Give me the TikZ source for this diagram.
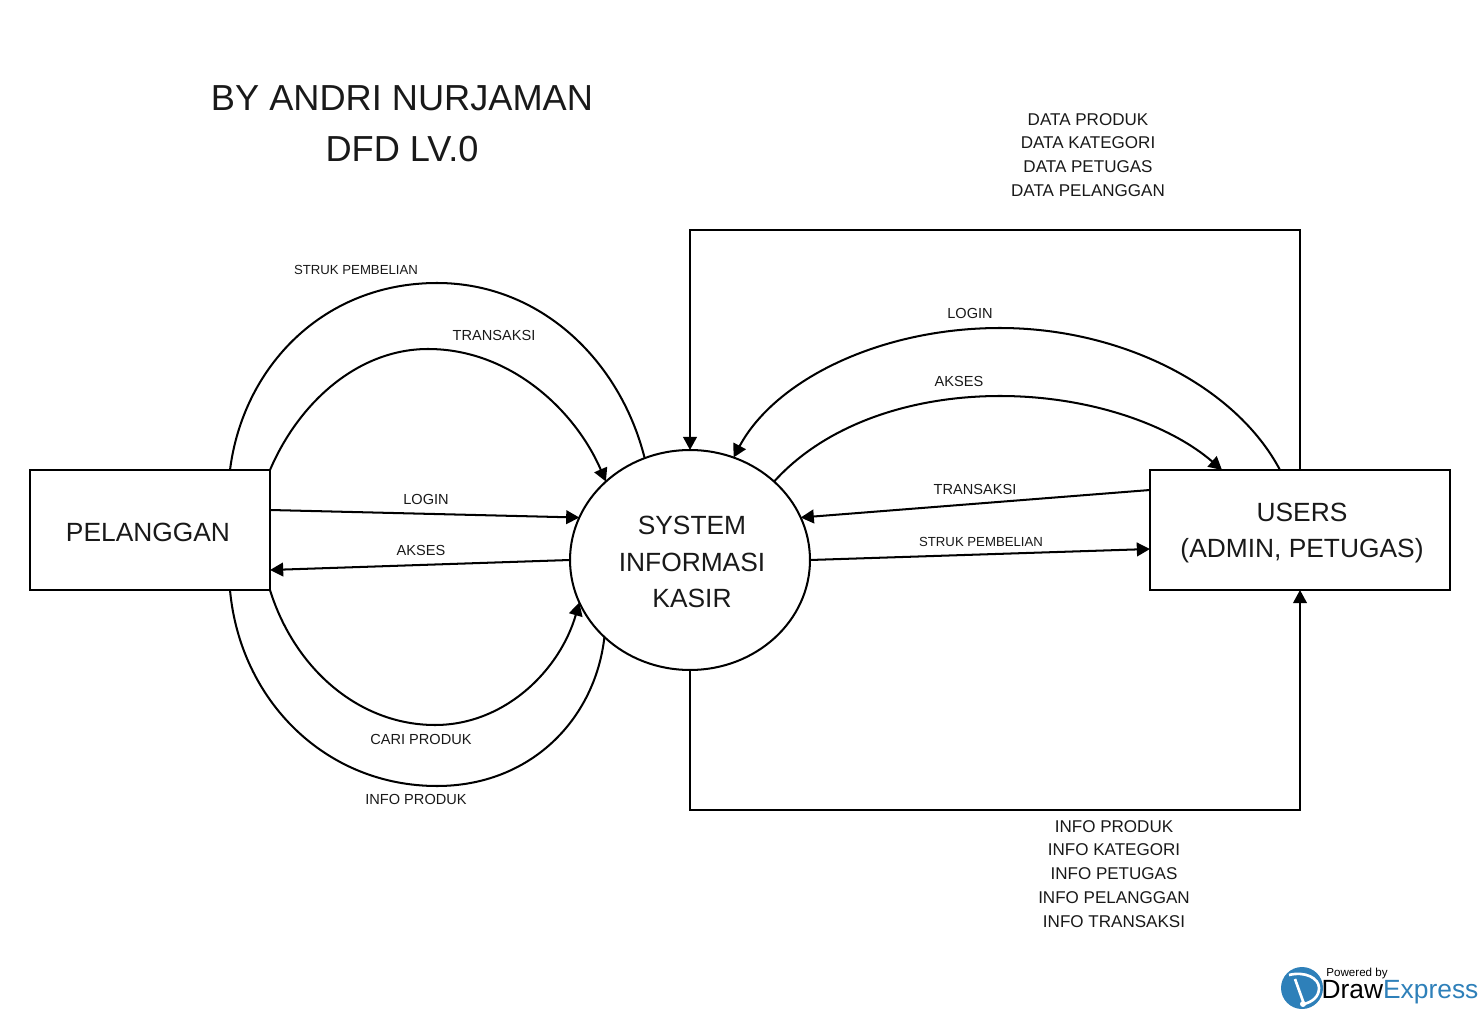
\documentclass[tikz,border=0pt]{standalone}
\usepackage{xcolor}
\usepackage{fontspec}
\setmainfont{Liberation Sans}
\usetikzlibrary{arrows.meta,shapes.geometric}
\definecolor{logoblue}{HTML}{2E80B9}
\tikzset{
  flow/.style={draw=black,line width=1.15pt,-{Triangle[length=7.5pt,width=7.8pt]}},
  plainflow/.style={draw=black,line width=1.15pt},
  entity/.style={draw=black,line width=1.15pt,minimum height=2.4cm,inner sep=0pt,outer sep=0pt},
  process/.style={draw=black,line width=1.15pt,ellipse,minimum width=4.8cm,minimum height=4.4cm,inner sep=0pt,outer sep=0pt},
  boxtext/.style={font=\fontsize{15}{21}\selectfont,align=center,text=black!90},
  titlelbl/.style={font=\fontsize{20.6}{29}\selectfont,align=center,text=black!90},
  listlbl/.style={font=\fontsize{9.7}{13.6}\selectfont,align=center,text=black!90},
  flowlbl/.style={font=\fontsize{8.3}{11}\selectfont,text=black!90},
  smalllbl/.style={font=\fontsize{7.5}{10}\selectfont,text=black!90}
}
\begin{document}
\begin{tikzpicture}[x=0.02cm,y=-0.02cm]
                \useasboundingbox (0,0) rectangle (1480,1016);

                \node[entity,minimum width=4.8cm] (pelanggan) at (150,530) {};
                \node[process] (sistem) at (690,560) {};
                \node[entity,minimum width=6cm] (users) at (1300,530) {};

                \node[boxtext] (pelangganText) at (148,532) {PELANGGAN};
                \node[boxtext] (sistemText) at (692,562) {SYSTEM\\INFORMASI\\KASIR};
                \node[boxtext] (usersText) at (1302,533) {USERS\\(ADMIN, PETUGAS)};

                % ports on the boxes
                \coordinate (plgTopA) at (230,470);
                \coordinate (plgBotA) at (230,590);
                \coordinate (plgIn) at (270,570);
                \coordinate (plgOut) at (270,510);
                \coordinate (usrTopA) at (1280,470);
                \coordinate (usrTopB) at (1222,470);
                \coordinate (usrIn) at (1150,549);
                \coordinate (usrOut) at (1150,490);

                % left side
                \draw[plainflow] (plgTopA) .. controls (243,367) and (323,283) .. (437,283) .. controls (540,283) and (620,360) .. (sistem.114);
                \draw[flow] (pelanggan.north east) .. controls (300,400) and (360,349) .. (428,349) .. controls (510,349) and (575,410) .. (sistem.137);
                \draw[flow] (plgOut) -- (sistem.159);
                \draw[flow] (sistem.west) -- (plgIn);
                \draw[flow] (pelanggan.south east) .. controls (295,670) and (360,725) .. (435,725) .. controls (505,725) and (560,670) .. (sistem.201);
                \draw[plainflow] (plgBotA) .. controls (240,700) and (325,786) .. (437,786) .. controls (530,786) and (595,720) .. (sistem.222);

                % right side
                \draw[flow] (usrTopA) .. controls (1235,385) and (1120,328) .. (1000,328) .. controls (880,328) and (775,380) .. (sistem.67);
                \draw[flow] (sistem.43) .. controls (825,425) and (910,396) .. (1000,396) .. controls (1090,396) and (1170,425) .. (usrTopB);
                \draw[flow] (usrOut) -- (sistem.21);
                \draw[flow] (sistem.east) -- (usrIn);
                \draw[flow] (users.north) |- (690,230) -- (sistem.north);
                \draw[flow] (sistem.south) |- (1300,810) -- (users.south);

                \node[titlelbl] (judul) at (402,124) {BY ANDRI NURJAMAN\\DFD LV.0};
                \node[listlbl] (datalist) at (1088,155) {DATA PRODUK\\DATA KATEGORI\\DATA PETUGAS\\DATA PELANGGAN};
                \node[listlbl] (infolist) at (1114,874) {INFO PRODUK\\INFO KATEGORI\\INFO PETUGAS\\INFO PELANGGAN\\INFO TRANSAKSI};

                \node[smalllbl] (lblStrukA) at (356,270) {STRUK PEMBELIAN};
                \node[flowlbl] (lblTransA) at (494,335) {TRANSAKSI};
                \node[flowlbl] (lblLoginA) at (426,499) {LOGIN};
                \node[flowlbl] (lblAksesA) at (421,550) {AKSES};
                \node[flowlbl] (lblCari) at (421,739) {CARI PRODUK};
                \node[flowlbl] (lblInfo) at (416,799) {INFO PRODUK};
                \node[flowlbl] (lblLoginB) at (970,313) {LOGIN};
                \node[flowlbl] (lblAksesB) at (959,381) {AKSES};
                \node[flowlbl] (lblTransB) at (975,489) {TRANSAKSI};
                \node[smalllbl] (lblStrukB) at (981,542) {STRUK PEMBELIAN};

                % logo
                \fill[logoblue] (1302,988) circle (21);
                \draw[white,line width=1.5pt,line join=round] (1289,975) .. controls (1305,971) and (1319,978) .. (1319,988) .. controls (1319,997) and (1312,1002) .. (1304,1004) -- (1295,979);
                \fill[logoblue] (1299,982) .. controls (1306,981) and (1311,984) .. (1311,988) .. controls (1311,992) and (1308,995) .. (1304,996) -- cycle;
                \fill[white] (1303,1004) circle (3);
                \node[font=\fontsize{6.6}{7}\selectfont,text=black,inner sep=0pt] (logoTop) at (1357,973) {Powered by};
                \node[font=\fontsize{15}{17}\selectfont,inner sep=0pt] (logoName) at (1400,992) {Draw\textcolor{logoblue}{Express}};
\end{tikzpicture}
\end{document}
